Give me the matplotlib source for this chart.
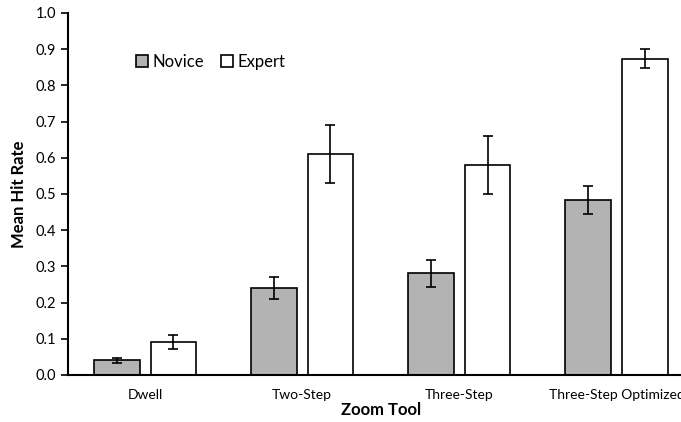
import numpy as np
import matplotlib.pyplot as plt

plt.rcParams['font.family'] = ['Lato', 'DejaVu Sans']

tools = ['Dwell', 'Two-Step', 'Three-Step', 'Three-Step Optimized']
novice = [0.041, 0.240, 0.281, 0.484]
novice_err = [0.007, 0.030, 0.038, 0.038]
expert = [0.091, 0.610, 0.579, 0.874]
expert_err = [0.020, 0.080, 0.080, 0.026]

x = np.arange(len(tools))
w = 0.29

fig = plt.figure(figsize=(6.81, 4.22), dpi=100)
ax = fig.add_axes([0.0999, 0.1114, 0.9207, 0.8578])

ax.bar(x - 0.18, novice, w, color='#b3b3b3', edgecolor='black', linewidth=1.2,
       yerr=novice_err, capsize=3.5, error_kw=dict(elinewidth=1.2, capthick=1.2), label='Novice')
ax.bar(x + 0.18, expert, w, color='white', edgecolor='black', linewidth=1.2,
       yerr=expert_err, capsize=3.5, error_kw=dict(elinewidth=1.2, capthick=1.2), label='Expert')

ax.set_xlim(-0.49, 3.5)
ax.set_ylim(0, 1.0)
ax.set_yticks(np.arange(0, 1.01, 0.1))
ax.set_yticklabels(['%.1f' % v for v in np.arange(0, 1.01, 0.1)], fontsize=10.5)
ax.set_xticks(x)
ax.set_xticklabels(tools, fontsize=10)
ax.tick_params(axis='x', length=0, pad=10)
ax.tick_params(axis='y', length=5, width=1.2)

for s in ['top', 'right']:
    ax.spines[s].set_visible(False)
for s in ['left', 'bottom']:
    ax.spines[s].set_linewidth(1.5)

ax.set_ylabel('Mean Hit Rate', fontsize=12, fontweight='bold', labelpad=6)
ax.set_xlabel('Zoom Tool', fontsize=12, fontweight='bold', labelpad=1)

ax.legend(loc='center left', bbox_to_anchor=(0.095, 0.865), ncol=2, frameon=False,
          fontsize=12, handlelength=0.75, handleheight=0.75, handletextpad=0.25,
          columnspacing=1.0, borderpad=0)

fig.savefig('out.png', dpi=100)
